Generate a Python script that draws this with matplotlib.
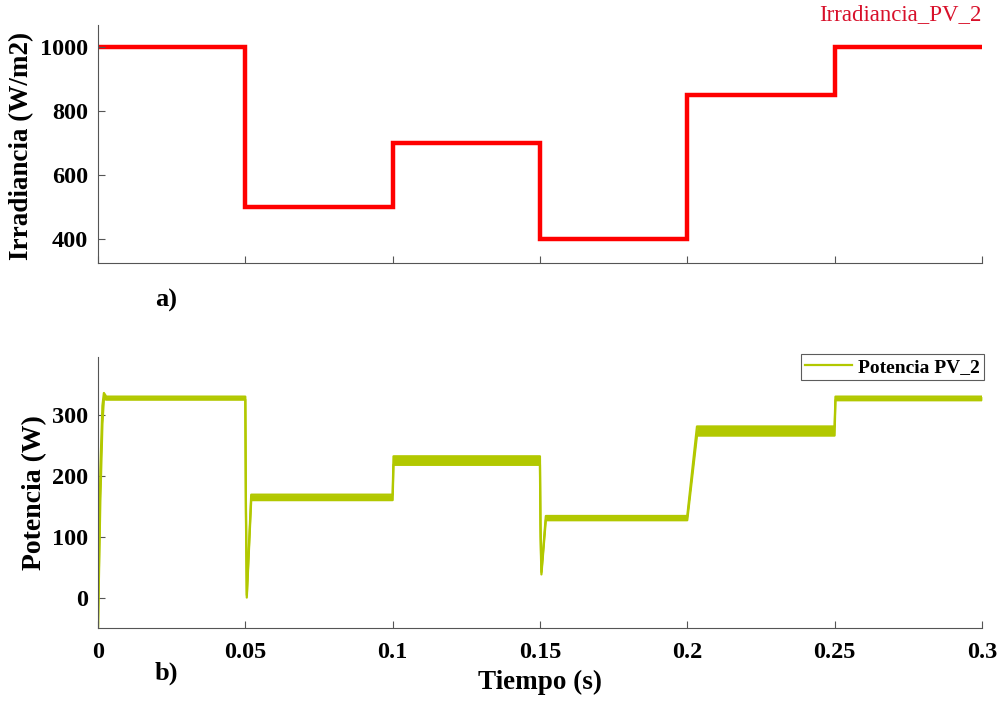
import matplotlib
matplotlib.use("Agg")
import matplotlib.pyplot as plt

# ---- data ----
t_irr = [0.0, 0.05, 0.10, 0.15, 0.20, 0.25, 0.30]
irr_levels = [1000, 500, 700, 400, 850, 1000]

t_pow = [0.0, 0.0008, 0.0015, 0.0020, 0.0028, 0.0500, 0.0502, 0.0505, 0.0520,
         0.1000, 0.1003, 0.1012, 0.1500, 0.1502, 0.1505, 0.1520,
         0.2000, 0.2033, 0.2500, 0.2503, 0.3000]
pow_hi = [-50, 210, 315, 336, 330, 330, 160, 4, 169,
          169, 232, 232, 232, 120, 42, 134,
          134, 281, 281, 330, 330]
pow_lo = [-50, 160, 285, 326, 325, 325, 140, 0, 160,
          160, 218, 218, 218, 100, 38, 127,
          127, 266, 266, 324, 324]

x_ticks = [0, 0.05, 0.1, 0.15, 0.2, 0.25, 0.3]
x_ticklabels = ["0", "0.05", "0.1", "0.15", "0.2", "0.25", "0.3"]
irr_yticks = [400, 600, 800, 1000]
pow_yticks = [0, 100, 200, 300]

RED = "#FF0000"
GREEN = "#B2C800"
SPINE = "#555555"
TICK_FS = 17.5

plt.rcParams["font.family"] = ["Liberation Serif", "DejaVu Serif"]

fig = plt.figure(figsize=(10.01, 7.01), dpi=100)

# ---- top axes ----
ax1 = fig.add_axes([0.0979, 0.6248, 0.883, 0.3395])
ax1.stairs(irr_levels, t_irr, color=RED, linewidth=3.2, baseline=None)
ax1.set_xlim(0, 0.3)
ax1.set_ylim(325, 1070)
ax1.set_xticks(x_ticks)
ax1.set_xticklabels([])
ax1.set_yticks(irr_yticks)
ax1.set_yticklabels([str(v) for v in irr_yticks], fontsize=TICK_FS, fontweight="bold")
ax1.set_ylabel("Irradiancia (W/m2)", fontsize=19.5, fontweight="bold")
ax1.yaxis.set_label_coords(-0.072, 0.49)
ax1.text(1.0, 1.045, "Irradiancia_PV_2", transform=ax1.transAxes, ha="right",
         va="center", color="#D8102A", fontsize=16.5)

# ---- bottom axes ----
ax2 = fig.add_axes([0.0979, 0.1041, 0.883, 0.3866])
ax2.fill_between(t_pow, pow_lo, pow_hi, color=GREEN, linewidth=0)
ax2.plot(t_pow, pow_hi, color=GREEN, linewidth=1.6)
ax2.plot(t_pow, pow_lo, color=GREEN, linewidth=1.6, label="Potencia PV_2")
ax2.set_xlim(0, 0.3)
ax2.set_ylim(-50, 395)
ax2.set_xticks(x_ticks)
ax2.set_xticklabels(x_ticklabels, fontsize=TICK_FS, fontweight="bold")
ax2.set_yticks(pow_yticks)
ax2.set_yticklabels([str(v) for v in pow_yticks], fontsize=TICK_FS, fontweight="bold")
ax2.set_ylabel("Potencia (W)", fontsize=20, fontweight="bold")
ax2.yaxis.set_label_coords(-0.058, 0.5)
ax2.set_xlabel("Tiempo (s)", fontsize=19.5, fontweight="bold", labelpad=5)
leg = ax2.legend(loc="upper right", bbox_to_anchor=(1.002, 1.01),
                 prop={"weight": "bold", "size": 14}, frameon=True, fancybox=False,
                 handlelength=2.4, handletextpad=0.3, borderpad=0.2,
                 borderaxespad=0.0)
leg.get_frame().set_edgecolor("#333333")
leg.get_frame().set_linewidth(0.8)

for ax in (ax1, ax2):
    ax.spines["top"].set_visible(False)
    ax.spines["right"].set_visible(False)
    ax.spines["left"].set_color(SPINE)
    ax.spines["bottom"].set_color(SPINE)
    ax.spines["left"].set_linewidth(0.8)
    ax.spines["bottom"].set_linewidth(0.8)
    ax.tick_params(direction="in", length=5, width=0.8, color=SPINE, pad=7)
ax2.tick_params(axis="x", pad=10)

fig.text(0.166, 0.571, "a)", fontsize=19, fontweight="bold", ha="center", va="center")
fig.text(0.166, 0.040, "b)", fontsize=19, fontweight="bold", ha="center", va="center")

fig.savefig("out.png", dpi=100)
